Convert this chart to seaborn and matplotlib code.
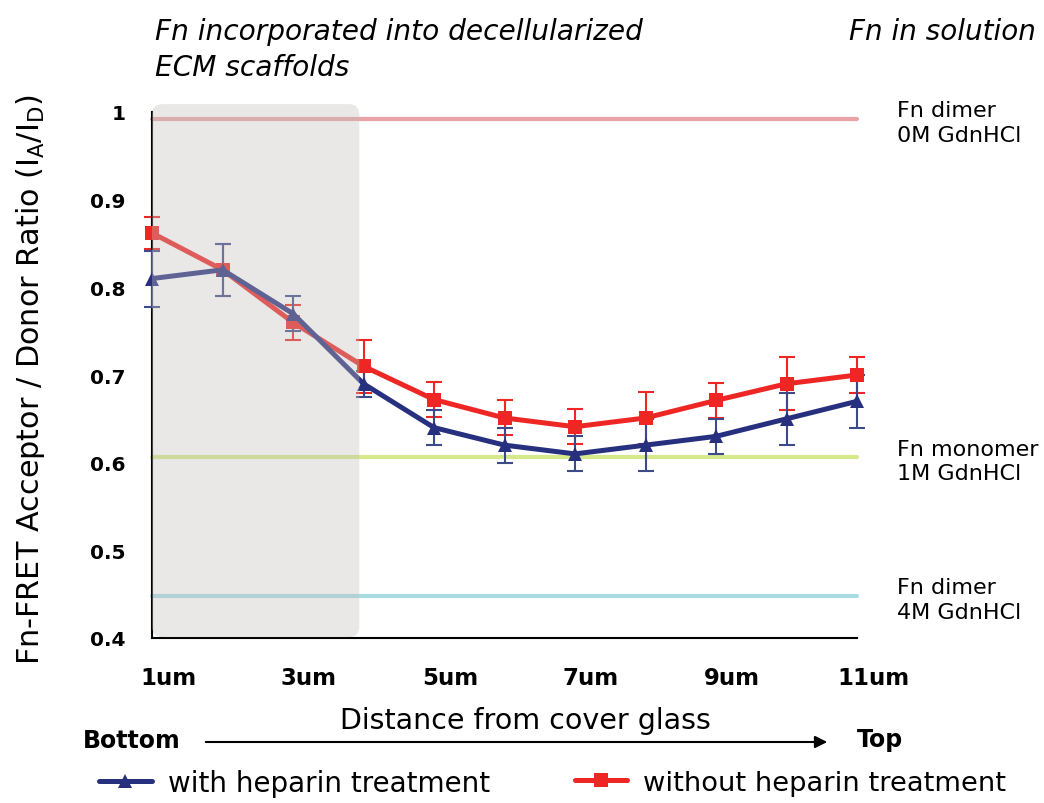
import numpy as np
import pandas as pd
import matplotlib
matplotlib.use("Agg")
import matplotlib.pyplot as plt
import matplotlib.transforms as mtransforms
import seaborn as sns
from matplotlib.patches import FancyBboxPatch
from matplotlib.lines import Line2D

# ---------------------------------------------------------
# Data
# ---------------------------------------------------------
depth = [1, 2, 3, 4, 5, 6, 7, 8, 9, 10, 11]
with_heparin = [0.81, 0.82, 0.77, 0.69, 0.64, 0.62, 0.61, 0.62, 0.63, 0.65, 0.67]
with_heparin_err = [0.032, 0.03, 0.02, 0.015, 0.02, 0.02, 0.02, 0.03, 0.02, 0.03, 0.03]
without_heparin = [0.862, 0.82, 0.76, 0.71, 0.672, 0.651, 0.641, 0.651, 0.671, 0.69, 0.70]
without_heparin_err = [0.018, 0.03, 0.02, 0.03, 0.02, 0.02, 0.02, 0.03, 0.02, 0.03, 0.02]

ref_levels = [0.992, 0.606, 0.448]
ref_labels = ["Fn dimer\n0M GdnHCl", "Fn monomer\n1M GdnHCl", "Fn dimer\n4M GdnHCl"]
ref_colors = ["#e9a3a6", "#d6e98a", "#a9dce2"]

label_ticks = [1, 3, 5, 7, 9, 11]
tick_labels = ["1um", "3um", "5um", "7um", "9um", "11um"]
mark_ticks = [2, 3, 4, 5, 6, 7, 8, 9, 10]

blue = "#27307f"
red = "#ee2624"

df = pd.DataFrame({
    "depth": depth * 2,
    "ratio": with_heparin + without_heparin,
    "group": ["with"] * len(depth) + ["without"] * len(depth),
})

# ---------------------------------------------------------
# Figure
# ---------------------------------------------------------
sns.set_style("white")
plt.rcParams["font.family"] = ["DejaVu Sans"]
plt.rcParams["text.color"] = "black"
plt.rcParams["xtick.color"] = "black"
plt.rcParams["ytick.color"] = "black"
plt.rcParams["axes.labelcolor"] = "black"

fig = plt.figure(figsize=(10.44, 8.04), dpi=100)
ax = fig.add_axes([152 / 1044, 165 / 804, 705 / 1044, 526 / 804])

# reference lines (Fn in solution)
for lvl, col in zip(ref_levels, ref_colors):
    ax.axhline(lvl, color=col, lw=3, zorder=1)

# error bars
ax.errorbar(depth, without_heparin, yerr=without_heparin_err, fmt="none",
            ecolor=red, elinewidth=1.5, capsize=6, capthick=1.5, zorder=2, clip_on=False)
ax.errorbar(depth, with_heparin, yerr=with_heparin_err, fmt="none",
            ecolor="#3c4a8a", elinewidth=1.5, capsize=6, capthick=1.5, zorder=3, clip_on=False)

sns.lineplot(data=df, x="depth", y="ratio", hue="group", style="group",
             palette={"with": blue, "without": red},
             markers={"with": "^", "without": "s"}, dashes=False,
             lw=3.6, markersize=10, markeredgewidth=0, legend=False, ax=ax,
             hue_order=["without", "with"], zorder=4)
for ln in ax.lines:
    ln.set_clip_on(False)

# grey box over the first few micrometres
box = FancyBboxPatch((1.0, 0.401), 2.94, 0.608,
                     boxstyle="round,pad=0,rounding_size=0.15",
                     mutation_aspect=0.08,
                     fc="#c2c0bc", ec="none", alpha=0.36, zorder=5)
box.set_clip_on(False)
ax.add_patch(box)

ax.set_xlim(1, 11)
ax.set_ylim(0.4, 1.0)
ax.set_xticks(label_ticks)
ax.set_xticklabels(tick_labels, fontsize=16.5, fontweight="bold")
ax.set_xticks(mark_ticks, minor=True)
ax.set_yticks([0.4, 0.5, 0.6, 0.7, 0.8, 0.9, 1.0])
ax.set_yticklabels(["0.4", "0.5", "0.6", "0.7", "0.8", "0.9", "1"],
                   fontsize=14.5, fontweight="bold")
ax.tick_params(axis="x", which="major", length=0, pad=20)
ax.tick_params(axis="x", which="minor", direction="out", length=8, width=1.5, color="black")
ax.tick_params(axis="y", direction="out", length=9, width=1.5, color="black", pad=10)
shift = mtransforms.ScaledTranslation(16 / 100, 0, fig.dpi_scale_trans)
for lab in ax.get_xticklabels():
    lab.set_transform(lab.get_transform() + shift)
sns.despine(ax=ax)
for s in ["left", "bottom"]:
    ax.spines[s].set_color("black")
    ax.spines[s].set_linewidth(1.5)
ax.set_xlabel("")
ax.set_ylabel("")
fig.text(31 / 1044, 1 - 380 / 804,
         "Fn-FRET Acceptor / Donor Ratio (I$_\\mathregular{A}$/I$_\\mathregular{D}$)",
         fontsize=21.8, rotation=90, ha="center", va="center")

# reference line labels
for lvl, lab in zip(ref_levels, ref_labels):
    ax.text((897 - 152) / 705, lvl - 0.004, lab, transform=ax.get_yaxis_transform(),
            fontsize=16, va="center", ha="left", linespacing=1.3)

# header texts
fig.text(155 / 1044, 1 - 50 / 804, "Fn incorporated into decellularized\nECM scaffolds",
         fontsize=20.2, style="italic", ha="left", va="center", linespacing=1.35)
fig.text(1036 / 1044, 1 - 32 / 804, "Fn in solution", fontsize=20, style="italic",
         ha="right", va="center")

# axis caption with arrow
fig.text(525 / 1044, 1 - 721 / 804, "Distance from cover glass", fontsize=20.5,
         ha="center", va="center")
fig.text(83 / 1044, 1 - 741 / 804, "Bottom", fontsize=17, fontweight="bold",
         ha="left", va="center")
fig.text(857 / 1044, 1 - 740 / 804, "Top", fontsize=17, fontweight="bold",
         ha="left", va="center")
ax.annotate("", xy=(830 / 1044, 1 - 743 / 804), xytext=(203 / 1044, 1 - 743 / 804),
            xycoords="figure fraction", textcoords="figure fraction",
            arrowprops=dict(arrowstyle="-|>", color="black", lw=1.5, mutation_scale=18))

# legend
handles = [Line2D([], [], color=blue, marker="^", lw=3.6, markersize=10, markeredgewidth=0),
           Line2D([], [], color=red, marker="s", lw=3.6, markersize=10, markeredgewidth=0)]
fig.legend(handles[:1], ["with heparin treatment"], loc="center left",
           bbox_to_anchor=(74 / 1044, 1 - 784 / 804), frameon=False, fontsize=20,
           handlelength=1.9, handletextpad=0.6)
fig.legend(handles[1:], ["without heparin treatment"], loc="center left",
           bbox_to_anchor=(550 / 1044, 1 - 784 / 804), frameon=False, fontsize=19.7,
           handlelength=1.9, handletextpad=0.6)

fig.savefig("out.png", dpi=100)
